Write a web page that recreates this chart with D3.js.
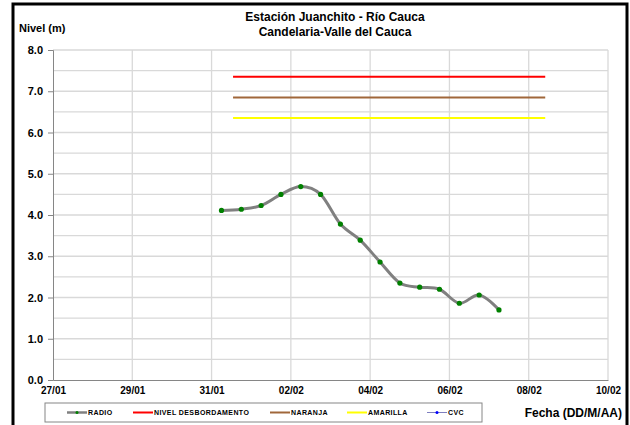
<!DOCTYPE html>
<meta charset="utf-8">
<script src="https://d3js.org/d3.v7.min.js"></script>
<style>
  body { margin: 0; background: #fff; }
  text { font-family: "Liberation Sans", Arial, sans-serif; font-weight: bold; }
</style>
<div id="my_dataviz"></div>
<script>

// data: river level readings every 12 h
var times = ["2011-01-31 06:00","2011-01-31 18:00","2011-02-01 06:00","2011-02-01 18:00",
             "2011-02-02 06:00","2011-02-02 18:00","2011-02-03 06:00","2011-02-03 18:00",
             "2011-02-04 06:00","2011-02-04 18:00","2011-02-05 06:00","2011-02-05 18:00",
             "2011-02-06 06:00","2011-02-06 18:00","2011-02-07 06:00"];
var radio = [4.11, 4.14, 4.23, 4.50, 4.69, 4.50, 3.78, 3.39, 2.86, 2.35, 2.25, 2.20, 1.86, 2.06, 1.70];

// alert levels, drawn between two dates
var levelSpan = ["2011-01-31 13:00", "2011-02-08 10:00"];
var levelNames = ["NIVEL DESBORDAMENTO", "NARANJA", "AMARILLA"];
var levelValues = [7.35, 6.85, 6.35];
var levelColors = ["#ff0000", "#a0673a", "#ffff00"];

var xTicks = ["2011-01-27","2011-01-29","2011-01-31","2011-02-02","2011-02-04","2011-02-06","2011-02-08","2011-02-10"];
var yTicks = [0, 1, 2, 3, 4, 5, 6, 7, 8];

var parse = d3.timeParse("%Y-%m-%d %H:%M");
var parseDay = d3.timeParse("%Y-%m-%d");

var W = 630, H = 425;
var margin = {top: 50, right: 22, bottom: 45, left: 53};
var width = W - margin.left - margin.right,
    height = H - margin.top - margin.bottom;

var svg = d3.select("#my_dataviz").append("svg")
    .attr("width", W)
    .attr("height", H);

// outer frame
svg.append("path")
    .attr("d", "M13,425 V4 H627 V425")
    .attr("fill", "none")
    .attr("stroke", "#000")
    .attr("stroke-width", 3);

var x = d3.scaleTime()
  .domain([parseDay(xTicks[0]), parseDay(xTicks[xTicks.length - 1])])
  .range([0, width]);

var y = d3.scaleLinear()
  .domain([0, 8])
  .range([height, 0]);

var g = svg.append("g")
    .attr("transform", "translate(" + margin.left + "," + margin.top + ")");

// horizontal gridlines every 0.5
g.selectAll(".hgrid")
  .data(d3.range(0.5, 8.01, 0.5))
  .enter().append("line")
    .attr("x1", 0).attr("x2", width)
    .attr("y1", d => y(d)).attr("y2", d => y(d))
    .attr("stroke", "#d9d9d9")
    .attr("stroke-width", 1.3);

// vertical gridlines
g.selectAll(".vgrid")
  .data(xTicks.slice(1))
  .enter().append("line")
    .attr("x1", d => x(parseDay(d))).attr("x2", d => x(parseDay(d)))
    .attr("y1", 0).attr("y2", height)
    .attr("stroke", "#d9d9d9")
    .attr("stroke-width", 1.3);

// Y AXIS
var yAxis = g.append("g")
  .call(d3.axisLeft(y).tickValues(yTicks).tickFormat(d3.format(".1f")).tickSize(5).tickPadding(5));
yAxis.select(".domain").attr("stroke", "#868686");
yAxis.selectAll(".tick line").attr("stroke", "#868686");
yAxis.selectAll("text").style("font-size", "11px").attr("fill", "#000");

// X AXIS
var xAxis = g.append("g")
  .attr("transform", "translate(0," + height + ")")
  .call(d3.axisBottom(x).tickValues(xTicks.map(parseDay)).tickFormat(d3.timeFormat("%d/%m")).tickSize(0).tickPadding(7));
xAxis.select(".domain").attr("stroke", "#868686");
xAxis.selectAll("text").style("font-size", "10px").attr("fill", "#000");

// alert level lines
g.selectAll(".level")
  .data(levelValues)
  .enter().append("line")
    .attr("x1", x(parse(levelSpan[0]))).attr("x2", x(parse(levelSpan[1])))
    .attr("y1", d => y(d)).attr("y2", d => y(d))
    .attr("stroke", (d, i) => levelColors[i])
    .attr("stroke-width", 2);

// RADIO series
var pts = times.map((t, i) => [parse(t), radio[i]]);
g.append("path")
  .datum(pts)
  .attr("fill", "none")
  .attr("stroke", "#808080")
  .attr("stroke-width", 3)
  .attr("d", d3.line().x(d => x(d[0])).y(d => y(d[1])).curve(d3.curveCardinal.tension(0)));

g.selectAll(".pt")
  .data(pts)
  .enter().append("circle")
    .attr("cx", d => x(d[0]))
    .attr("cy", d => y(d[1]))
    .attr("r", 2.6)
    .attr("fill", "#008000");

// titles
svg.append("text").attr("x", 335).attr("y", 21)
  .attr("text-anchor", "middle").style("font-size", "12px")
  .text("Estación Juanchito - Río Cauca");
svg.append("text").attr("x", 335).attr("y", 36)
  .attr("text-anchor", "middle").style("font-size", "12px")
  .text("Candelaria-Valle del Cauca");
svg.append("text").attr("x", 19).attr("y", 32)
  .style("font-size", "11px")
  .text("Nivel (m)");
svg.append("text").attr("x", 622).attr("y", 417)
  .attr("text-anchor", "end").style("font-size", "12px")
  .text("Fecha (DD/M/AA)");

// LEGEND
var legend = svg.append("g");
legend.append("rect")
  .attr("x", 45).attr("y", 403).attr("width", 437).attr("height", 19)
  .attr("fill", "#fff").attr("stroke", "#868686").attr("stroke-width", 1);

var legItems = [
  {name: "RADIO", color: "#808080", x: 67, marker: "#008000"},
  {name: levelNames[0], color: levelColors[0], x: 133},
  {name: levelNames[1], color: levelColors[1], x: 270},
  {name: levelNames[2], color: levelColors[2], x: 347},
  {name: "CVC", color: "#7f7fbf", x: 427, marker: "#0000ff"}
];
var ly = 412.5;
legItems.forEach(function(d) {
  legend.append("line")
    .attr("x1", d.x).attr("x2", d.x + 20)
    .attr("y1", ly).attr("y2", ly)
    .attr("stroke", d.color)
    .attr("stroke-width", d.marker ? (d.name == "CVC" ? 1 : 2.5) : 2);
  if (d.marker) {
    legend.append("circle")
      .attr("cx", d.x + 10).attr("cy", ly).attr("r", 1.5)
      .attr("fill", d.marker);
  }
  legend.append("text")
    .attr("x", d.x + 21).attr("y", ly + 2.5)
    .style("font-size", "7px")
    .style("letter-spacing", "0.4px")
    .text(d.name);
});

</script>
